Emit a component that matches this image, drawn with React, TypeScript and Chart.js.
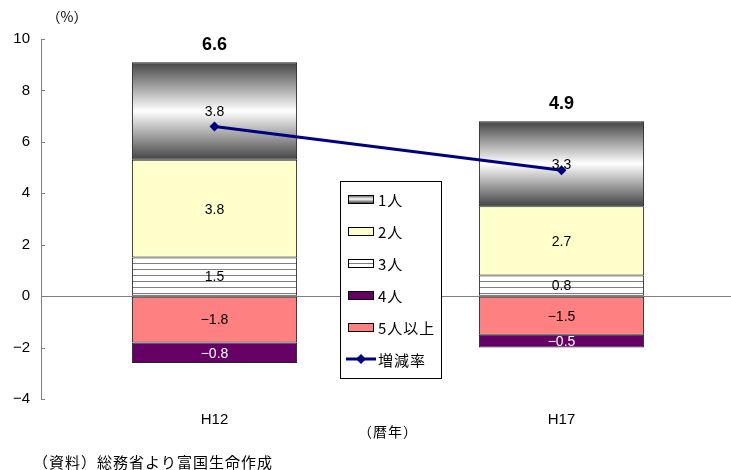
import { useEffect, useRef } from "react";
import { Chart, registerables } from "chart.js";

Chart.register(...registerables);

const categories = ["H12", "H17"];
const onePerson = [3.8, 3.3];
const twoPersons = [3.8, 2.7];
const threePersons = [1.5, 0.8];
const fourPersons = [-0.8, -0.5];
const fivePlus = [-1.8, -1.5];
const changeRate = [6.6, 4.9];
const yMin = -4;
const yMax = 10;
const yStep = 2;

const seriesNames = ["1人", "2人", "3人", "4人", "5人以上", "増減率"];

const JP = '"Noto Sans CJK JP", "Noto Sans", sans-serif';
const NUM = '"Liberation Sans", Arial, sans-serif';

function fmt(v: number) {
  return (v < 0 ? "−" : "") + Math.abs(v).toFixed(1);
}

function makeHatch(ctx: CanvasRenderingContext2D) {
  const c = document.createElement("canvas");
  c.width = 4;
  c.height = 6;
  const g = c.getContext("2d")!;
  g.fillStyle = "#ffffff";
  g.fillRect(0, 0, 4, 6);
  g.fillStyle = "#808080";
  g.fillRect(0, 5, 4, 1);
  return ctx.createPattern(c, "repeat")!;
}

function grad(ctx: CanvasRenderingContext2D, y0: number, y1: number) {
  const g = ctx.createLinearGradient(0, y0, 0, y1);
  g.addColorStop(0, "#444444");
  g.addColorStop(0.5, "#ffffff");
  g.addColorStop(1, "#444444");
  return g;
}

export default function App() {
  const ref = useRef<HTMLCanvasElement | null>(null);

  useEffect(() => {
    const canvas = ref.current!;
    const ctx0 = canvas.getContext("2d")!;
    const hatch = makeHatch(ctx0);

    const gradPlugin = {
      id: "gradFill",
      beforeDatasetsDraw(chart: any) {
        const idx = chart.data.datasets.findIndex((d: any) => d.label === "1人");
        const meta = chart.getDatasetMeta(idx);
        meta.data.forEach((el: any) => {
          const y0 = Math.min(el.y, el.base);
          const y1 = Math.max(el.y, el.base);
          if (!isFinite(y0) || !isFinite(y1)) return;
          el.options = { ...el.options, backgroundColor: grad(chart.ctx, y0, y1) };
        });
      },
    };

    const labelPlugin = {
      id: "labels",
      afterDatasetsDraw(chart: any) {
        const ctx = chart.ctx as CanvasRenderingContext2D;
        ctx.save();
        ctx.textAlign = "center";
        ctx.textBaseline = "middle";
        ctx.font = `14px ${NUM}`;
        chart.data.datasets.forEach((ds: any, di: number) => {
          if (ds.type === "line") return;
          const meta = chart.getDatasetMeta(di);
          meta.data.forEach((el: any, i: number) => {
            const v = ds.data[i];
            ctx.fillStyle = ds.label === "4人" ? "#ffffff" : "#000000";
            ctx.fillText(fmt(v), el.x, (el.y + el.base) / 2 + 1);
          });
        });
        const topIdx = chart.data.datasets.findIndex((d: any) => d.label === "1人");
        const meta = chart.getDatasetMeta(topIdx);
        ctx.font = `bold 18px ${NUM}`;
        ctx.fillStyle = "#000";
        meta.data.forEach((el: any, i: number) => {
          ctx.fillText(changeRate[i].toFixed(1), el.x, el.y - 17);
        });
        ctx.restore();
      },
    };

    const decoPlugin = {
      id: "deco",
      afterDraw(chart: any) {
        const ctx = chart.ctx as CanvasRenderingContext2D;
        const area = chart.chartArea;
        const y = chart.scales.y;
        ctx.save();
        ctx.strokeStyle = "#808080";
        ctx.lineWidth = 1;
        y.ticks.forEach((t: any) => {
          const p = Math.round(y.getPixelForValue(t.value)) + 0.5;
          ctx.beginPath();
          ctx.moveTo(area.left, p);
          ctx.lineTo(area.left + 4, p);
          ctx.stroke();
        });
        // legend
        const lx = 340.5, ly = 181.5, lw = 101, lh = 197;
        ctx.fillStyle = "#ffffff";
        ctx.fillRect(lx, ly, lw, lh);
        ctx.strokeStyle = "#000000";
        ctx.strokeRect(lx, ly, lw, lh);
        const swatch: any[] = ["grad", "#FFFFCC", hatch, "#660066", "#FF8080", "line"];
        seriesNames.forEach((name, k) => {
          const cy = 199 + k * 32;
          const sx = 348, sw = 26, sh = 8;
          if (swatch[k] === "line") {
            ctx.strokeStyle = "#000080";
            ctx.lineWidth = 3;
            ctx.beginPath();
            ctx.moveTo(sx - 2, cy);
            ctx.lineTo(sx + sw + 2, cy);
            ctx.stroke();
            ctx.fillStyle = "#000080";
            ctx.beginPath();
            ctx.moveTo(sx + sw / 2, cy - 5);
            ctx.lineTo(sx + sw / 2 + 5, cy);
            ctx.lineTo(sx + sw / 2, cy + 5);
            ctx.lineTo(sx + sw / 2 - 5, cy);
            ctx.closePath();
            ctx.fill();
          } else {
            const top = cy - sh / 2;
            ctx.fillStyle = swatch[k] === "grad" ? grad(ctx, top, top + sh) : swatch[k];
            ctx.fillRect(sx, top, sw, sh);
            ctx.lineWidth = 1;
            ctx.strokeStyle = "#000";
            ctx.strokeRect(sx + 0.5, top + 0.5, sw - 1, sh);
          }
          ctx.fillStyle = "#000";
          ctx.font = `15px ${JP}`;
          (ctx as any).letterSpacing = "1px";
          ctx.textAlign = "left";
          ctx.textBaseline = "middle";
          ctx.fillText(name, 378, cy + 1);
          (ctx as any).letterSpacing = "0px";
        });
        ctx.fillStyle = "#000";
        ctx.textBaseline = "middle";
        ctx.font = `14px ${JP}`;
        ctx.textAlign = "center";
        ctx.fillText("（%）", 67, 17);
        (ctx as any).letterSpacing = "1px";
        ctx.fillText("（暦年）", 388, 432);
        ctx.font = `15px ${JP}`;
        ctx.textAlign = "left";
        ctx.fillText("（資料）総務省より富国生命作成", 33, 462);
        (ctx as any).letterSpacing = "0px";
        ctx.restore();
      },
    };

    const barBase = {
      type: "bar" as const,
      borderColor: "#222222",
      borderWidth: 1,
      borderSkipped: false,
      order: 1,
      stack: "s",
    };

    const chart = new Chart(canvas, {
      type: "bar",
      data: {
        labels: categories,
        datasets: [
          { ...barBase, label: "3人", data: threePersons, backgroundColor: hatch },
          { ...barBase, label: "2人", data: twoPersons, backgroundColor: "#FFFFCC" },
          { ...barBase, label: "1人", data: onePerson, backgroundColor: "#cccccc" },
          { ...barBase, label: "5人以上", data: fivePlus, backgroundColor: "#FF8080" },
          { ...barBase, label: "4人", data: fourPersons, backgroundColor: "#660066" },
          {
            type: "line" as const,
            label: "増減率",
            data: changeRate,
            borderColor: "#000080",
            backgroundColor: "#000080",
            borderWidth: 3,
            pointStyle: "rectRot",
            pointRadius: 5,
            pointBorderWidth: 0,
            order: 0,
          } as any,
        ] as any,
      },
      options: {
        animation: false,
        responsive: true,
        maintainAspectRatio: false,
        layout: { padding: { left: 8, top: 39, right: 1, bottom: 0 } },
        datasets: { bar: { barPercentage: 1, categoryPercentage: 0.476 } } as any,
        plugins: { legend: { display: false }, tooltip: { enabled: false } },
        scales: {
          x: {
            stacked: true,
            grid: { display: false, drawTicks: false },
            border: { display: false },
            ticks: { color: "#000", font: { family: NUM, size: 15 }, padding: 12 },
            afterFit: (s: any) => {
              s.height = 71;
            },
          },
          y: {
            stacked: true,
            min: yMin,
            max: yMax,
            ticks: {
              stepSize: yStep,
              color: "#000",
              font: { family: NUM, size: 15 },
              padding: 11,
              callback: (v: any) => (Number(v) < 0 ? "−" + Math.abs(Number(v)) : String(v)),
            },
            grid: {
              drawTicks: false,
              color: (c: any) => (c.tick && c.tick.value === 0 ? "#808080" : "rgba(0,0,0,0)"),
            },
            border: { display: true, color: "#808080" },
            afterFit: (s: any) => {
              s.width = 33;
            },
          },
        },
      } as any,
      plugins: [gradPlugin, labelPlugin, decoPlugin],
    });
    return () => chart.destroy();
  }, []);

  return (
    <div style={{ position: "fixed", left: 0, top: 0, width: 731, height: 470, overflow: "hidden", background: "#fff" }}>
      <div style={{ position: "relative", width: 740, height: 470 }}>
        <canvas ref={ref} />
      </div>
    </div>
  );
}
